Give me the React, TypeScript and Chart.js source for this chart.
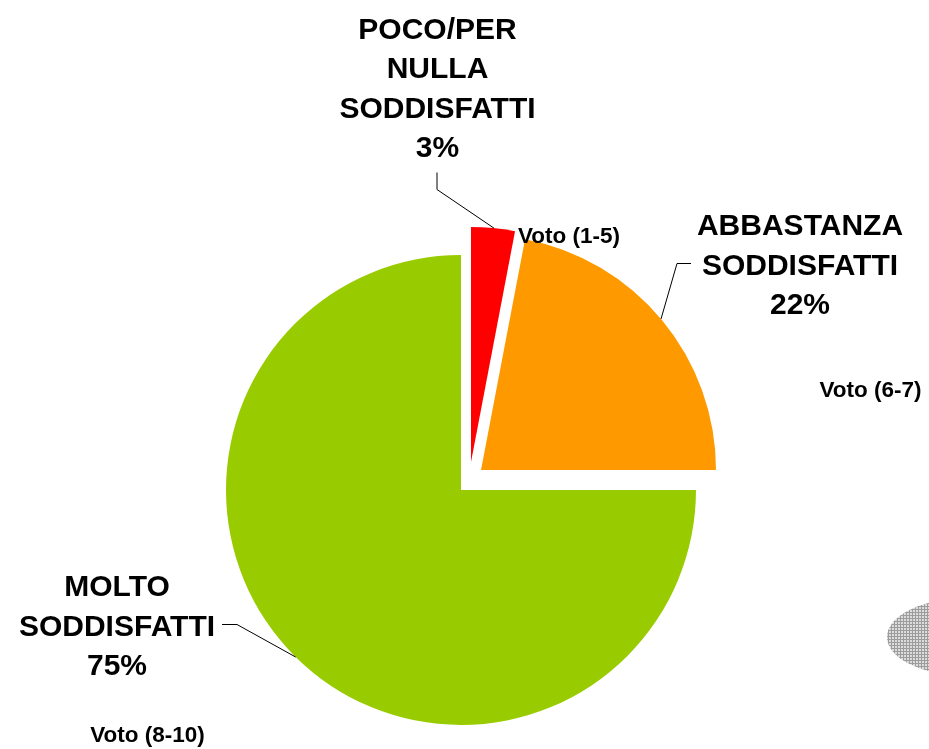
import React, { useEffect, useRef } from "react";
import { Chart, registerables } from "chart.js";

Chart.register(...registerables);

// ---- data ----
const categories = ["POCO/PER NULLA SODDISFATTI", "ABBASTANZA SODDISFATTI", "MOLTO SODDISFATTI"];
const values = [3, 22, 75];
const labelLines = [
  ["POCO/PER", "NULLA", "SODDISFATTI", "3%"],
  ["ABBASTANZA", "SODDISFATTI", "22%"],
  ["MOLTO", "SODDISFATTI", "75%"],
];
const votoLabels = ["Voto (1-5)", "Voto (6-7)", "Voto (8-10)"];

// ---- styles / layout ----
const colors = ["#FF0000", "#FF9900", "#99CC00"];
const explode = [
  { dx: 10, dy: -28 },
  { dx: 20, dy: -20 },
  { dx: 0, dy: 0 },
];
const bigFont = "bold 30px 'Liberation Sans', Arial, sans-serif";
const smallFont = "bold 22.5px 'Liberation Sans', Arial, sans-serif";
const labelLayout = [
  { x: 437.5, y: 39, lh: 39.3, align: "center", leader: { anchor: [437, 172], elbow: [437, 189], angleDeg: -84.4 } },
  { x: 800, y: 235, lh: 39.5, align: "center", leader: { anchor: [691, 263], elbow: [677, 263], angleDeg: -40 } },
  { x: 117, y: 596, lh: 39.5, align: "center", leader: { anchor: [222, 624], elbow: [237, 624], angleDeg: 134.7 } },
];
const votoLayout = [
  { x: 518, y: 243, align: "left" },
  { x: 870.5, y: 397, align: "center" },
  { x: 147.5, y: 742, align: "center" },
];

const explodePlugin = {
  id: "explodeShift",
  afterDatasetsUpdate(chart: any) {
    const meta = chart.getDatasetMeta(0);
    meta.data.forEach((arc: any, i: number) => {
      arc.x += explode[i].dx;
      arc.y += explode[i].dy;
    });
  },
};

const labelsPlugin = {
  id: "pieLabels",
  afterDraw(chart: any) {
    const ctx: CanvasRenderingContext2D = chart.ctx;
    const meta = chart.getDatasetMeta(0);
    ctx.save();
    // leader lines
    ctx.strokeStyle = "#000";
    ctx.lineWidth = 1;
    meta.data.forEach((arc: any, i: number) => {
      const L = labelLayout[i].leader;
      const a = (L.angleDeg * Math.PI) / 180;
      const ex = arc.x + Math.cos(a) * arc.outerRadius;
      const ey = arc.y + Math.sin(a) * arc.outerRadius;
      ctx.beginPath();
      ctx.moveTo(L.anchor[0], L.anchor[1] + 0.5);
      ctx.lineTo(L.elbow[0], L.elbow[1] + 0.5);
      ctx.lineTo(ex, ey);
      ctx.stroke();
    });
    // big labels
    ctx.fillStyle = "#000";
    ctx.textBaseline = "alphabetic";
    ctx.font = bigFont;
    labelLines.forEach((lines, i) => {
      const lay = labelLayout[i];
      ctx.textAlign = lay.align as CanvasTextAlign;
      lines.forEach((t, j) => ctx.fillText(t, lay.x, lay.y + j * lay.lh));
    });
    // voto labels
    ctx.font = smallFont;
    votoLabels.forEach((t, i) => {
      const lay = votoLayout[i];
      ctx.textAlign = lay.align as CanvasTextAlign;
      ctx.fillText(t, lay.x, lay.y);
    });
    // hatched ellipse decoration at right edge
    const pc = document.createElement("canvas");
    pc.width = 3;
    pc.height = 3;
    const p = pc.getContext("2d")!;
    p.fillStyle = "#dcdcdc";
    p.fillRect(0, 0, 3, 3);
    p.fillStyle = "#9c9c9c";
    p.fillRect(0, 0, 3, 1);
    p.fillRect(0, 0, 1, 3);
    const pat = ctx.createPattern(pc, "repeat");
    if (pat) {
      ctx.fillStyle = pat;
      ctx.beginPath();
      ctx.ellipse(962, 637, 75, 38, 0, 0, Math.PI * 2);
      ctx.fill();
    }
    ctx.restore();
  },
};

export default function App() {
  const ref = useRef<HTMLCanvasElement>(null);
  useEffect(() => {
    document.body.style.margin = "0";
    const chart = new Chart(ref.current!, {
      type: "pie",
      data: {
        labels: categories,
        datasets: [
          {
            data: values,
            backgroundColor: colors,
            borderWidth: 0,
            offset: 0,
          },
        ],
      },
      options: {
        animation: false,
        responsive: false,
        devicePixelRatio: 1,
        layout: { padding: { left: 226, right: 233, top: 255, bottom: 24 } },
        plugins: {
          legend: { display: false },
          tooltip: { enabled: false },
          title: { display: false },
        },
      },
      plugins: [explodePlugin, labelsPlugin],
    });
    return () => chart.destroy();
  }, []);
  return (
    <div style={{ position: "absolute", left: 0, top: 0, width: 929, height: 749, background: "#fff" }}>
      <canvas ref={ref} width={929} height={749} style={{ display: "block" }} />
    </div>
  );
}
